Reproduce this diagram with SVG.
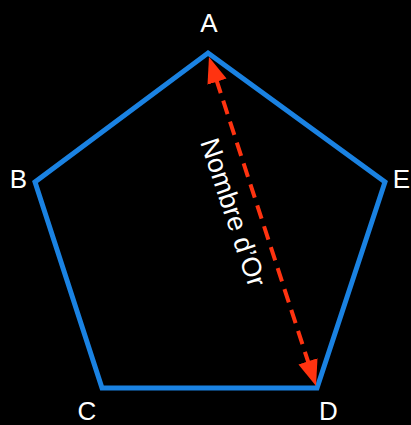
<svg xmlns="http://www.w3.org/2000/svg" width="411" height="425" viewBox="0 0 411 425">
  <style>
    .lbl { font-family: "Liberation Sans", Arial, sans-serif; font-size: 26px; fill: #ffffff; text-anchor: middle; }
    .gl { font-family: "Liberation Sans", Arial, sans-serif; font-size: 27px; fill: #ffffff; }
    .edge { fill: none; stroke: #1a82e2; stroke-width: 5; stroke-linejoin: miter; }
    .gold { stroke: #ff3310; stroke-width: 4; stroke-dasharray: 14 8; fill: none; }
  </style>
  <defs>
    <marker id="arr" markerUnits="userSpaceOnUse" markerWidth="28" markerHeight="22" refX="2" refY="10" orient="auto-start-reverse" viewBox="0 0 28 20">
      <path d="M0,0 L26,10 L0,20 z" fill="#ff3310"/>
    </marker>
  </defs>
  <rect width="411" height="425" fill="#000000"/>
  <g id="pentagon">
    <polygon class="edge" points="208,53 385,182 317,388 102,388 35,182"/>
  </g>
  <g id="A"><text class="lbl" x="209" y="32">A</text></g>
  <g id="B"><text class="lbl" x="18.5" y="188">B</text></g>
  <g id="C"><text class="lbl" x="87" y="420">C</text></g>
  <g id="D"><text class="lbl" x="328.5" y="420">D</text></g>
  <g id="E"><text class="lbl" x="401.5" y="188">E</text></g>
  <g id="connectors">
    <line class="gold" x1="216.4" y1="79.8" x2="308.6" y2="363.2" marker-start="url(#arr)" marker-end="url(#arr)"/>
    <text class="gl" transform="translate(200,142) rotate(71.5)" x="0" y="0">Nombre d’Or</text>
  </g>
</svg>
